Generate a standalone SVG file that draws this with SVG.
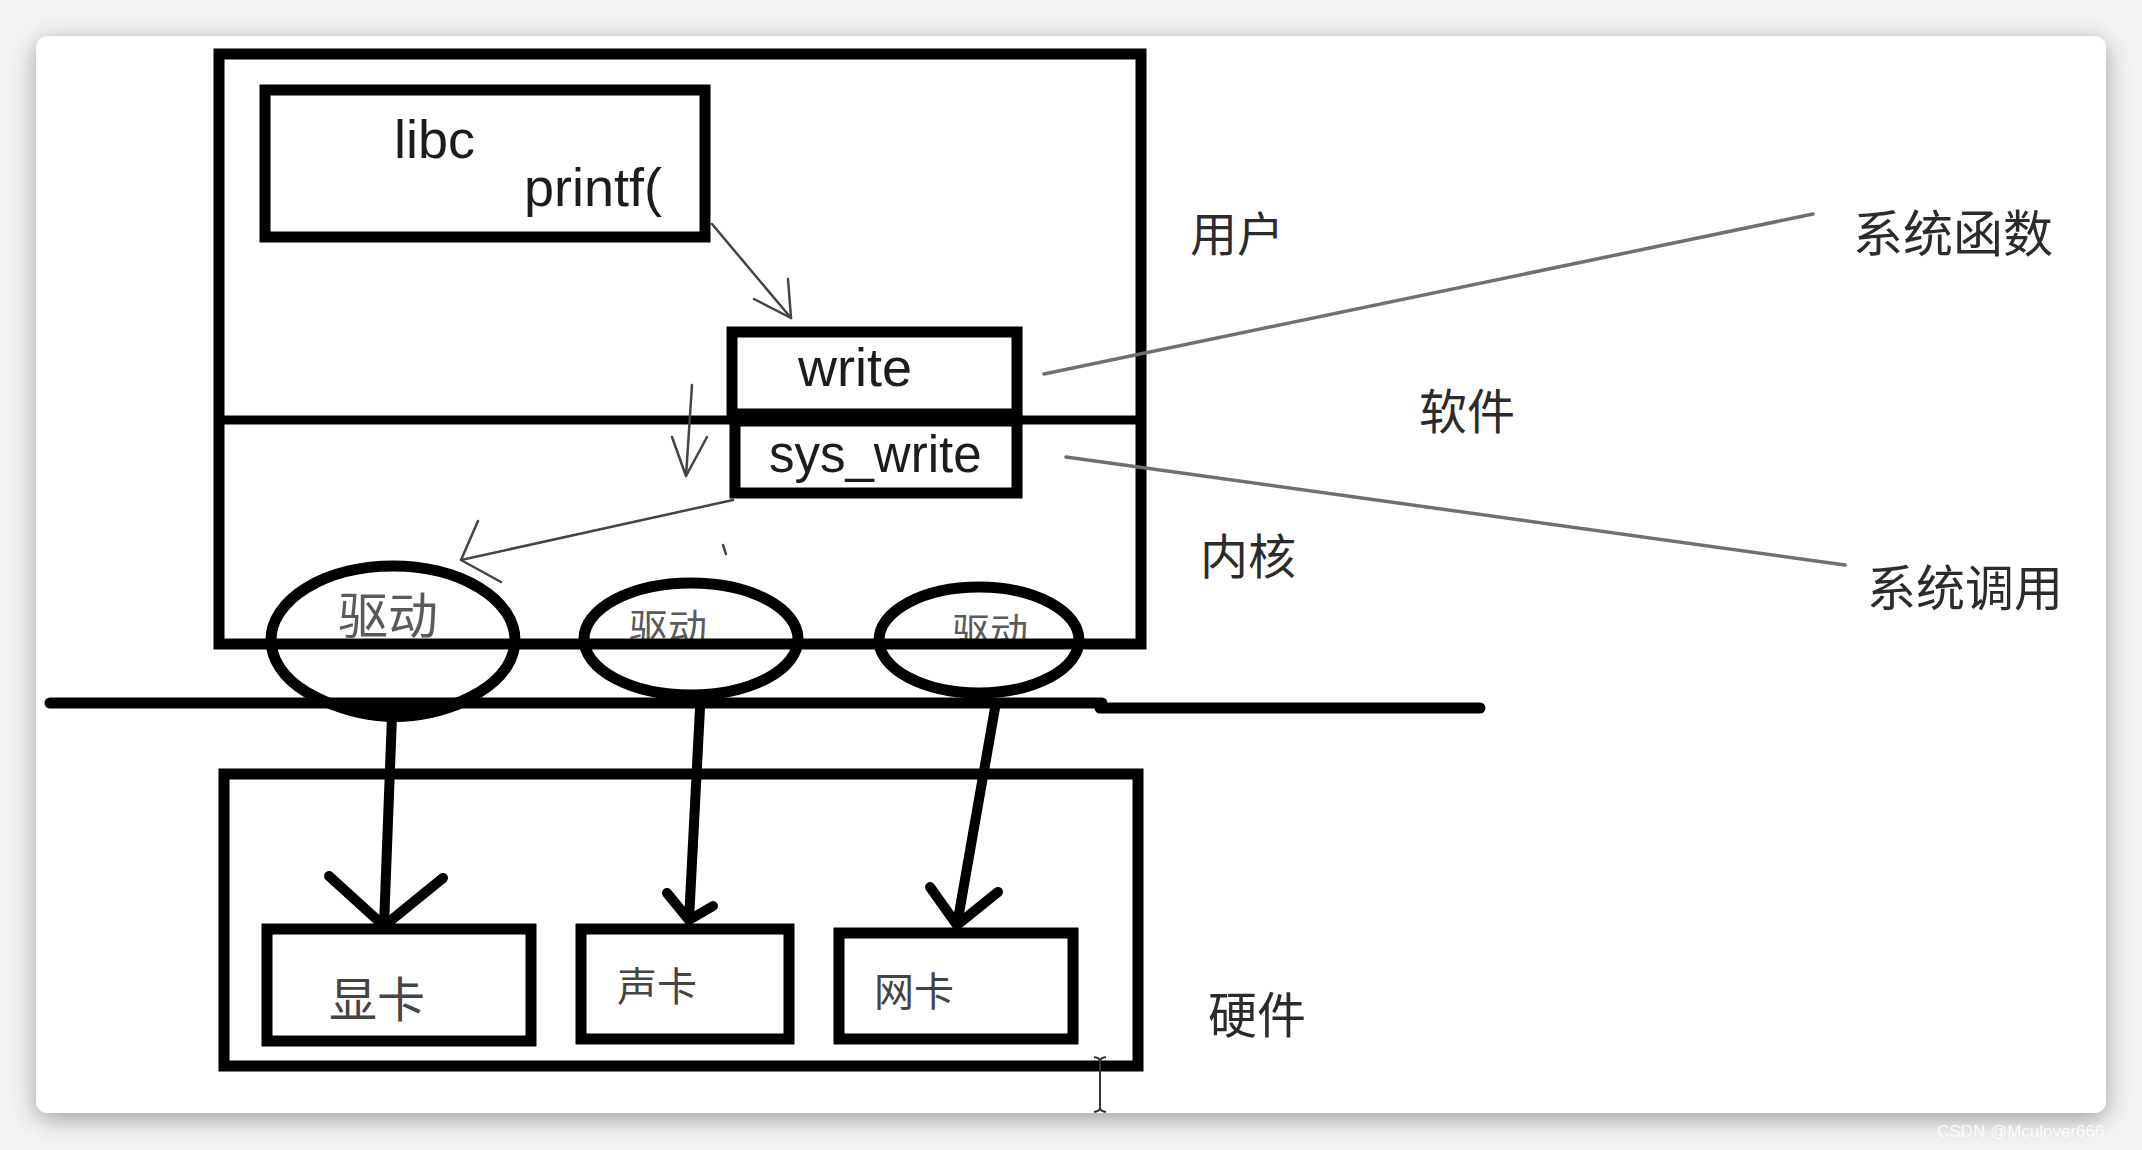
<svg xmlns="http://www.w3.org/2000/svg" width="2142" height="1150" viewBox="0 0 2142 1150">
<defs>
<filter id="shadow" x="-5%" y="-8%" width="110%" height="118%">
<feGaussianBlur in="SourceAlpha" stdDeviation="13"/>
<feOffset dy="6" result="b"/>
<feComponentTransfer><feFuncA type="linear" slope="0.35"/></feComponentTransfer>
<feMerge><feMergeNode/><feMergeNode in="SourceGraphic"/></feMerge>
</filter>
<style>
.box{fill:none;stroke:#000;stroke-width:11}
.thick{fill:none;stroke:#000;stroke-width:10;stroke-linecap:round;stroke-linejoin:round}
.thin{fill:none;stroke:#444;stroke-width:2.5;stroke-linecap:round;stroke-linejoin:round}
.lead{fill:none;stroke:#707070;stroke-width:3.5;stroke-linecap:round}
.lat{font-family:"Liberation Sans",Arial,sans-serif;fill:#1c1c1c}
.cjk{font-family:"Noto Sans CJK SC","Noto Sans",sans-serif;fill:#2b2b2b}
.drv{font-family:"Noto Sans CJK SC","Noto Sans",sans-serif;fill:#5a5a5a}
.card{font-family:"Noto Sans CJK SC","Noto Sans",sans-serif;fill:#444}
</style>
</defs>
<rect width="2142" height="1150" fill="#f3f3f3"/>
<rect x="36" y="36" width="2070" height="1077" rx="12" fill="#fff" filter="url(#shadow)"/>
<text x="1937" y="1137" font-family="Liberation Sans, Arial, sans-serif" font-size="17" fill="#fff" fill-opacity="0.85">CSDN @Mculover666</text>

<g id="drivers">
<g id="driver1">
<ellipse cx="393" cy="640" rx="122" ry="74" class="box"/>
<path d="M322,706 Q395,738 468,706 Z" fill="#000"/>
<text x="338" y="634" font-size="50" class="drv">驱动</text>
</g>
<g id="driver2">
<ellipse cx="691" cy="639" rx="107" ry="56" class="box"/>
<text x="629" y="642" font-size="39" class="drv">驱动</text>
</g>
<g id="driver3">
<ellipse cx="979" cy="640" rx="100" ry="53" class="box"/>
<text x="952" y="645" font-size="38" class="drv">驱动</text>
</g>
</g>

<g id="software-box">
<rect x="219" y="54" width="922" height="590" class="box" stroke-width="12"/>
<line x1="219" y1="420" x2="1141" y2="420" stroke="#000" stroke-width="9"/>
</g>

<g id="libc">
<text x="394" y="158" font-size="54" class="lat">libc</text>
<text x="524" y="206" font-size="54" class="lat">printf(</text>
<rect x="265" y="90" width="440" height="147" class="box"/>
</g>

<g id="write">
<rect x="732" y="332" width="285" height="82" class="box"/>
<text x="798" y="386" font-size="54" class="lat">write</text>
</g>

<g id="sys_write">
<rect x="735" y="421" width="282" height="72" class="box"/>
<text x="769" y="472" font-size="51" class="lat">sys_write</text>
</g>

<g id="divider">
<path d="M50,703 L1102,703 M1100,708 L1480,708" fill="none" stroke="#000" stroke-width="11" stroke-linecap="round"/>
</g>

<g id="hardware-box">
<rect x="224" y="774" width="914" height="292" class="box" stroke-width="12"/>
</g>

<g id="gpu">
<rect x="267" y="929" width="264" height="112" class="box" stroke-width="12"/>
<text x="329" y="1017" font-size="48" class="card">显卡</text>
</g>
<g id="sound">
<rect x="581" y="929" width="208" height="110" class="box" stroke-width="12"/>
<text x="617" y="1001" font-size="40" class="card">声卡</text>
</g>
<g id="nic">
<rect x="839" y="933" width="234" height="106" class="box" stroke-width="12"/>
<text x="874" y="1006" font-size="40" class="card">网卡</text>
</g>

<g id="labels">
<text id="user" x="1190" y="251" font-size="47" class="cjk">用户</text>
<text id="software" x="1419" y="429" font-size="48" class="cjk">软件</text>
<text id="kernel" x="1200" y="574" font-size="48" class="cjk">内核</text>
<text id="sysfunc" x="1853" y="252" font-size="50" class="cjk">系统函数</text>
<text id="syscall" x="1867" y="606" font-size="49" class="cjk">系统调用</text>
<text id="hardware" x="1208" y="1033" font-size="49" class="cjk">硬件</text>
</g>

<g id="connectors">
<line x1="712" y1="224" x2="791" y2="318" class="thin"/>
<polyline points="754,299 791,318 788,279" class="thin"/>
<line x1="692" y1="385" x2="686" y2="476" class="thin"/>
<polyline points="672,437 686,476 707,437" class="thin"/>
<line x1="733" y1="500" x2="461" y2="560" class="thin"/>
<polyline points="478,521 461,560 501,582" class="thin"/>
<line x1="723" y1="545" x2="726" y2="554" class="thin"/>
<line x1="1044" y1="374" x2="1813" y2="214" class="lead"/>
<line x1="1066" y1="457" x2="1845" y2="565" class="lead"/>
<line x1="392" y1="716" x2="384" y2="926" class="thick"/>
<polyline points="329,876 384,926 443,878" class="thick"/>
<line x1="700" y1="708" x2="689" y2="920" class="thick"/>
<polyline points="667,893 689,920 713,906" class="thick"/>
<line x1="995" y1="708" x2="957" y2="925" class="thick"/>
<polyline points="930,887 957,925 998,892" class="thick"/>
</g>

<g id="cursor">
<path d="M1100,1059 V1110 M1094,1057 Q1100,1058 1100,1061 Q1100,1058 1106,1057 M1094,1112 Q1100,1111 1100,1108 Q1100,1111 1106,1112" fill="none" stroke="#333" stroke-width="2"/>
</g>
</svg>
